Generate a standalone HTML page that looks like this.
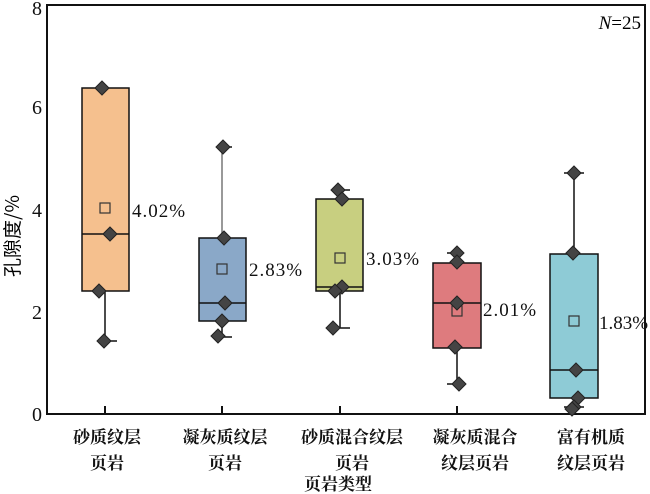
<!DOCTYPE html>
<html><head><meta charset="utf-8"><style>body{margin:0;background:#fff}svg{display:block}</style></head><body>
<svg width="650" height="494" xmlns="http://www.w3.org/2000/svg" font-family="'Liberation Serif','Noto Serif CJK SC',serif">
<defs><g id="d"><path d="M0,-7 L7,0 L0,7 L-7,0Z" fill="#444" stroke="#222" stroke-width="1"/></g></defs>
<rect x="47" y="5" width="598" height="409" fill="none" stroke="#111" stroke-width="2"/>
<g font-size="20" fill="#111" text-anchor="end">
<text x="42" y="421">0</text><text x="42" y="319">2</text><text x="42" y="217">4</text><text x="42" y="114">6</text><text x="42" y="15">8</text>
</g>
<text x="641" y="29" font-size="19" text-anchor="end"><tspan font-style="italic">N</tspan>=25</text>
<text transform="translate(19,236) rotate(-90)" font-size="19" text-anchor="middle" font-family="'Noto Sans CJK SC',sans-serif">孔隙度/%</text>
<g stroke="#111" stroke-width="2"><line x1="105" y1="414" x2="105" y2="406"/><line x1="222" y1="414" x2="222" y2="406"/><line x1="340" y1="414" x2="340" y2="406"/><line x1="457" y1="414" x2="457" y2="406"/><line x1="574" y1="414" x2="574" y2="406"/></g>
<g stroke="#111" stroke-width="1.5">
<line x1="105" y1="291" x2="105" y2="341"/><line x1="105" y1="341" x2="117" y2="341"/>
<rect x="82" y="88" width="47" height="203" fill="#f5c08e"/><line x1="82" y1="234" x2="129" y2="234"/>
<line x1="222" y1="147" x2="222" y2="238" stroke="#777"/><line x1="222" y1="147" x2="232" y2="147"/><line x1="222" y1="321" x2="222" y2="337"/><line x1="222" y1="337" x2="232" y2="337"/>
<rect x="199" y="238" width="47" height="83" fill="#8aa8c8"/><line x1="199" y1="303" x2="246" y2="303"/>
<line x1="340" y1="190" x2="340" y2="199"/><line x1="340" y1="190" x2="350" y2="190"/><line x1="340" y1="291" x2="340" y2="328"/><line x1="340" y1="328" x2="350" y2="328"/>
<rect x="316" y="199" width="47" height="92" fill="#c8cf80"/><line x1="316" y1="287" x2="363" y2="287"/>
<line x1="457" y1="253" x2="457" y2="263"/><line x1="447" y1="253" x2="457" y2="253"/><line x1="457" y1="348" x2="457" y2="384"/><line x1="447" y1="384" x2="457" y2="384"/>
<rect x="433" y="263" width="48" height="85" fill="#de7b7e"/><line x1="433" y1="303" x2="481" y2="303"/>
<line x1="574" y1="173" x2="574" y2="254"/><line x1="564" y1="173" x2="584" y2="173"/><line x1="574" y1="398" x2="574" y2="407"/><line x1="564" y1="407" x2="584" y2="407"/>
<rect x="550" y="254" width="48" height="144" fill="#8ecbd6"/><line x1="550" y1="370" x2="598" y2="370"/>
</g>
<g fill="none" stroke="#333" stroke-width="1.2">
<rect x="100" y="203" width="10" height="10"/><rect x="217" y="264" width="10" height="10"/><rect x="335" y="253" width="10" height="10"/><rect x="452" y="306" width="10" height="10"/><rect x="569" y="316" width="10" height="10"/>
</g>
<use href="#d" x="102" y="88"/><use href="#d" x="110" y="234"/><use href="#d" x="99" y="291"/><use href="#d" x="104" y="341"/>
<use href="#d" x="223" y="147"/><use href="#d" x="224" y="238"/><use href="#d" x="225" y="303"/><use href="#d" x="222" y="321"/><use href="#d" x="218" y="336"/>
<use href="#d" x="338" y="190"/><use href="#d" x="342" y="199"/><use href="#d" x="342" y="287"/><use href="#d" x="335" y="291"/><use href="#d" x="333" y="328"/>
<use href="#d" x="457" y="253"/><use href="#d" x="457" y="262"/><use href="#d" x="457" y="303"/><use href="#d" x="455" y="347"/><use href="#d" x="459" y="384"/>
<use href="#d" x="574" y="173"/><use href="#d" x="573" y="253"/><use href="#d" x="576" y="370"/><use href="#d" x="578" y="398"/><use href="#d" x="574" y="407"/><use href="#d" x="572" y="409"/>
<g font-size="19" fill="#111" letter-spacing="1">
<text x="132" y="217">4.02%</text><text x="249" y="276">2.83%</text><text x="366" y="265">3.03%</text><text x="483" y="316">2.01%</text><text x="599" y="329" letter-spacing="0">1.83%</text>
</g>
<g font-size="17" fill="#111" text-anchor="middle" font-family="'Noto Serif CJK SC',serif" font-weight="bold">
<text x="107" y="443">砂质纹层</text><text x="107" y="469">页岩</text>
<text x="225" y="443">凝灰质纹层</text><text x="225" y="469">页岩</text>
<text x="352" y="443">砂质混合纹层</text><text x="352" y="469">页岩</text>
<text x="475" y="443">凝灰质混合</text><text x="475" y="469">纹层页岩</text>
<text x="591" y="443">富有机质</text><text x="591" y="469">纹层页岩</text>
<text x="338" y="490">页岩类型</text>
</g>
</svg>
</body></html>
